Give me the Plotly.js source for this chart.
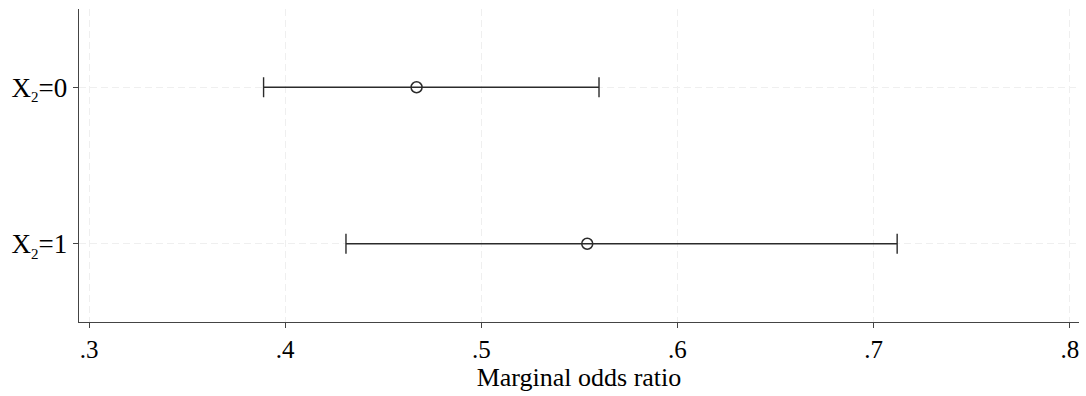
<!DOCTYPE html>
<html>
<head>
<meta charset="utf-8">
<script src="https://cdn.plot.ly/plotly-3.0.1.min.js"></script>
<style>html,body{margin:0;padding:0;background:#fff;}#chart{width:1086px;height:396px;}</style>
</head>
<body>
<div id="chart"></div>
<script>
const categories = ['X<sub><span style="font-size:15px">2</span></sub>=0', 'X<sub><span style="font-size:15px">2</span></sub>=1'];
const estimates = [0.467, 0.554];
const lowerCI = [0.389, 0.431];
const upperCI = [0.560, 0.712];
const xTickVals = [0.3, 0.4, 0.5, 0.6, 0.7, 0.8];
const xTickText = ['.3', '.4', '.5', '.6', '.7', '.8'];

const trace = {
  type: 'scatter',
  mode: 'markers',
  x: estimates,
  y: categories,
  error_x: {
    type: 'data',
    symmetric: false,
    array: upperCI.map((u, i) => u - estimates[i]),
    arrayminus: lowerCI.map((l, i) => estimates[i] - l),
    color: '#2b2b2b',
    thickness: 1.4,
    width: 10
  },
  marker: {
    symbol: 'circle-open',
    size: 11,
    color: '#2b2b2b',
    line: {width: 1.5, color: '#2b2b2b'}
  },
  hoverinfo: 'x+y'
};

const gridCol = '#efefef';
const layout = {
  width: 1086,
  height: 396,
  margin: {l: 79, r: 7, t: 9, b: 74},
  paper_bgcolor: '#ffffff',
  plot_bgcolor: '#ffffff',
  showlegend: false,
  font: {family: '"Liberation Serif", "Times New Roman", serif', color: '#000'},
  xaxis: {
    range: [0.2949, 0.8047],
    tickvals: xTickVals,
    ticktext: xTickText,
    ticks: 'outside',
    ticklen: 5,
    tickwidth: 1,
    tickcolor: '#444',
    showline: true,
    linecolor: '#444',
    linewidth: 1.3,
    showgrid: true,
    gridcolor: gridCol,
    griddash: '7px,4px',
    gridwidth: 1,
    zeroline: false,
    tickfont: {size: 25, color: '#000'},
    title: {text: 'Marginal odds ratio', font: {size: 26, color: '#000'}, standoff: 4}
  },
  yaxis: {
    type: 'category',
    range: [1.5, -0.5],
    ticks: 'outside',
    ticklen: 5,
    tickwidth: 1,
    tickcolor: '#444',
    showline: true,
    linecolor: '#444',
    linewidth: 1.3,
    showgrid: true,
    gridcolor: gridCol,
    griddash: '7px,4px',
    gridwidth: 1,
    zeroline: false,
    tickfont: {size: 27, color: '#000'}
  }
};

Plotly.newPlot('chart', [trace], layout, {displayModeBar: false, staticPlot: true});
</script>
</body>
</html>
